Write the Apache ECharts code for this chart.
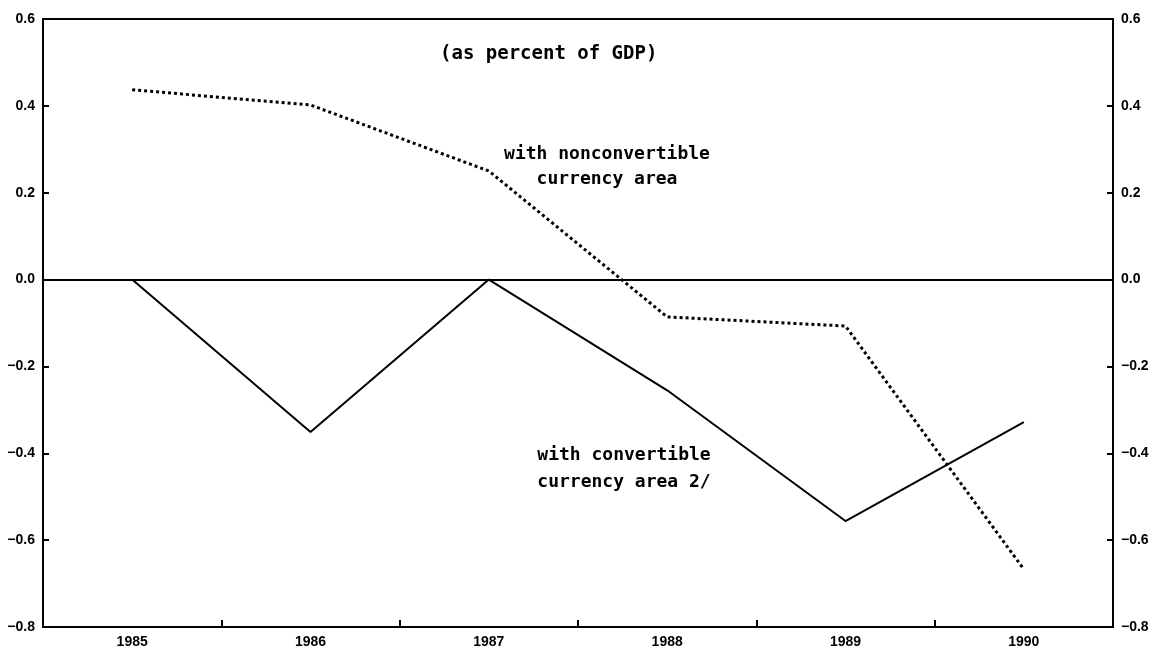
<!DOCTYPE html>
<html>
<head>
<meta charset="utf-8">
<script src="https://cdn.jsdelivr.net/npm/echarts@6/dist/echarts.min.js"></script>
<style>
  html, body { margin: 0; padding: 0; background: #fff; }
  #main { width: 1164px; height: 650px; }
</style>
</head>
<body>
<div id="main"></div>
<script>
// data
var years = ['1985', '1986', '1987', '1988', '1989', '1990'];
var nonconvertible = [0.437, 0.402, 0.25, -0.086, -0.107, -0.667];
var convertible = [0, -0.351, 0, -0.255, -0.556, -0.328];
var yTicks = [-0.8, -0.6, -0.4, -0.2, 0.0, 0.2, 0.4, 0.6];

var myChart = echarts.init(document.getElementById('main'));

var fmt = function (v) {
    var s = Math.abs(v).toFixed(1);
    return v < -1e-9 ? '\u2212' + s : s;
};

var yAxisBase = {
    type: 'value',
    min: yTicks[0],
    max: yTicks[yTicks.length - 1],
    interval: 0.2,
    splitLine: { show: false },
    axisLine: { show: true, lineStyle: { color: '#000', width: 2 } },
    axisTick: { show: true, inside: true, length: 6, lineStyle: { color: '#000', width: 2 } },
    axisLabel: {
        formatter: fmt,
        color: '#000',
        fontFamily: 'Liberation Sans',
        fontWeight: 'bold',
        fontSize: 14,
        margin: 8
    }
};

var annoStyle = {
    fontFamily: 'DejaVu Sans Mono',
    fontWeight: 'bold',
    fontSize: 18,
    fill: '#000',
    textAlign: 'center'
};

var option = {
    backgroundColor: '#fff',
    animation: false,
    title: {
        text: '(as percent of GDP)',
        left: 435,
        top: 40,
        textStyle: {
            fontFamily: 'DejaVu Sans Mono',
            fontWeight: 'bold',
            fontSize: 19,
            color: '#000'
        }
    },
    grid: {
        left: 43,
        right: 51,
        top: 19,
        bottom: 23,
        show: true,
        borderColor: '#000',
        borderWidth: 2
    },
    xAxis: {
        type: 'category',
        data: years,
        boundaryGap: true,
        axisLine: { show: true, onZero: false, lineStyle: { color: '#000', width: 2 } },
        axisTick: { show: true, inside: true, length: 7, lineStyle: { color: '#000', width: 2 } },
        axisLabel: {
            color: '#000',
            fontFamily: 'Liberation Sans',
            fontWeight: 'bold',
            fontSize: 14,
            margin: 8
        }
    },
    yAxis: [
        Object.assign({}, yAxisBase, { position: 'left' }),
        Object.assign({}, yAxisBase, { position: 'right' })
    ],
    graphic: [
        {
            type: 'text',
            x: 607,
            y: 142,
            style: Object.assign({ text: 'with nonconvertible\ncurrency area', lineHeight: 25 }, annoStyle)
        },
        {
            type: 'text',
            x: 624,
            y: 442,
            style: Object.assign({ text: 'with convertible\ncurrency area 2/', lineHeight: 27 }, annoStyle)
        }
    ],
    series: [
        {
            name: 'with nonconvertible currency area',
            type: 'line',
            data: nonconvertible,
            showSymbol: false,
            lineStyle: { color: '#000', width: 3, type: [3, 3] },
            markLine: {
                silent: true,
                symbol: 'none',
                label: { show: false },
                lineStyle: { color: '#000', width: 2, type: 'solid' },
                data: [{ yAxis: 0 }]
            }
        },
        {
            name: 'with convertible currency area 2/',
            type: 'line',
            data: convertible,
            showSymbol: false,
            lineStyle: { color: '#000', width: 2, type: 'solid' }
        }
    ]
};
myChart.setOption(option);
</script>
</body>
</html>
